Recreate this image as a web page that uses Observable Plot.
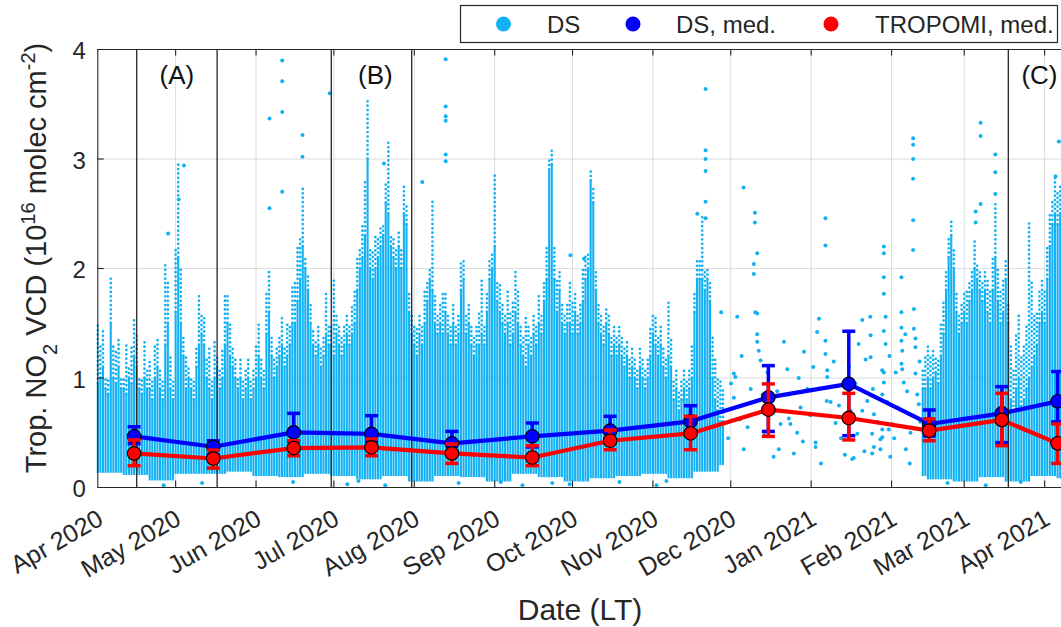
<!DOCTYPE html>
<html>
<head>
<meta charset="utf-8">
<script src="https://cdn.jsdelivr.net/npm/d3@7"></script>
<script src="https://cdn.jsdelivr.net/npm/@observablehq/plot@0.6"></script>
<style>
  html, body { margin: 0; padding: 0; background: #fff; overflow: hidden; }
  #chart { position: relative; width: 1061px; height: 627px; overflow: hidden; }
  #chart svg { overflow: hidden; }
</style>
</head>
<body>
<div id="chart"></div>
<script>
// ---------------- DATA ----------------
const startDay = "2020-04-01";          // day 0 of the day offsets below
const endDayOffset = 371.5;             // right edge of the visible axis (days)

const monthTicks = ["2020-04-01","2020-05-01","2020-06-01","2020-07-01","2020-08-01","2020-09-01",
  "2020-10-01","2020-11-01","2020-12-01","2021-01-01","2021-02-01","2021-03-01","2021-04-01"];
const monthLabels = ["Apr 2020","May 2020","Jun 2020","Jul 2020","Aug 2020","Sep 2020",
  "Oct 2020","Nov 2020","Dec 2020","Jan 2021","Feb 2021","Mar 2021","Apr 2021"];
const yTicks = [0, 1, 2, 3, 4];

// monthly medians and error-bar limits
const medDates = ["2020-04-15","2020-05-15T12:00","2020-06-15T12:00","2020-07-15T12:00","2020-08-15T12:00",
  "2020-09-15T12:00","2020-10-15T12:00","2020-11-15T12:00","2020-12-15T12:00","2021-01-15T12:00",
  "2021-02-15T12:00","2021-03-15T12:00","2021-04-06"];
const dsMed = [0.467,0.372,0.503,0.489,0.403,0.467,0.519,0.604,0.823,0.946,0.580,0.677,0.787];
const dsHi  = [0.555,0.427,0.677,0.656,0.512,0.589,0.650,0.747,1.113,1.427,0.708,0.921,1.059];
const dsLo  = [0.400,0.300,0.420,0.420,0.330,0.370,0.440,0.500,0.512,0.473,0.470,0.410,0.600];
const trMed = [0.311,0.265,0.360,0.366,0.311,0.274,0.427,0.494,0.711,0.635,0.519,0.617,0.403];
const trHi  = [0.434,0.342,0.427,0.443,0.397,0.382,0.525,0.650,0.946,0.860,0.626,0.860,0.580];
const trLo  = [0.199,0.177,0.290,0.290,0.220,0.199,0.345,0.345,0.467,0.434,0.427,0.382,0.220];

// period markers
const periodLines = ["2020-04-16","2020-05-17","2020-06-30","2020-07-31","2021-03-18"];
const periodLabels = ["(A)","(B)","(C)"];
const periodLabelDates = ["2020-05-01T12:00","2020-07-17","2021-03-30"];
const periodLabelY = [3.76, 3.76, 3.76];

// DS scatter, read as daily columns: dense core top and sparse-dot tail top
const coreStartA = 0;
const dsCoreA = [
 0.95,1.0,1.1,0.9,0.85,1.5,1.0,0.95,1.1,0.9,
 0.9,0.85,1.0,0.95,1.2,1.1,0.9,0.85,1.0,0.9,
 0.9,0.8,1.0,1.1,0.9,0.8,1.3,1.5,0.9,0.8,
 1.6,2.1,1.5,1.2,0.9,1.0,0.9,0.8,1.1,1.3,
 1.4,1.3,1.0,0.9,0.8,1.0,1.1,0.9,1.0,1.3,
 1.5,1.2,1.1,1.0,0.9,1.0,0.8,0.9,1.0,0.8,
 0.9,1.0,1.2,1.0,0.9,1.4,1.6,1.2,1.0,1.1,
 1.2,1.3,1.1,1.2,1.3,1.5,1.5,1.7,1.9,2.2,
 2.0,1.8,1.5,1.3,1.2,1.3,1.1,1.2,1.4,1.3,
 1.3,1.2,1.4,1.3,1.2,1.3,1.4,1.3,1.4,1.5,
 1.8,2.0,2.1,2.3,3.0,2.0,1.9,2.0,2.1,2.2,
 2.3,2.6,2.5,2.2,2.1,2.0,2.2,2.0,2.5,2.4,
 1.6,1.4,1.3,1.2,1.4,1.3,1.5,1.7,1.9,1.8,
 1.5,1.4,1.5,1.4,1.6,1.4,1.3,1.5,1.3,1.4,
 1.8,1.9,1.4,1.5,1.3,1.2,1.3,1.3,1.4,1.3,
 1.6,1.9,2.0,2.2,1.7,1.6,1.5,1.4,1.5,1.3,
 1.4,1.6,1.5,1.3,1.2,1.1,1.3,1.2,1.4,1.3,
 1.5,1.4,1.7,1.9,2.9,2.95,1.9,1.6,1.8,1.5,
 1.4,1.5,1.5,1.4,1.6,1.4,1.5,1.7,1.9,2.0,
 2.8,2.6,1.8,1.5,1.4,1.3,1.5,1.4,1.2,1.3,
 1.2,1.3,1.2,1.1,1.2,1.0,1.1,1.0,0.9,1.1,
 1.0,0.9,1.0,1.2,1.4,1.3,1.2,1.3,1.1,1.0,
 1.2,1.1,0.8,0.9,0.7,0.8,0.9,0.8,0.9,1.0,
 1.6,1.9,1.9,1.9,1.8,1.9,1.7,1.0,0.8,0.7,
 0.6,0.6];
const dsTailA = [
 1.5,1.3,1.45,1.0,1.0,1.92,1.3,1.25,1.35,1.0,
 1.0,1.3,1.1,1.3,1.55,1.4,1.0,1.0,1.35,1.1,
 1.15,1.0,1.3,1.35,1.1,1.0,2.05,1.9,1.2,1.0,
 2.2,2.95,2.0,1.4,1.2,1.1,1.0,1.0,1.3,1.75,
 1.6,1.55,1.2,1.3,1.0,1.35,1.2,1.1,1.25,1.75,
 1.75,1.5,1.3,1.2,1.0,1.2,1.0,1.1,1.2,1.0,
 1.1,1.3,1.5,1.2,1.1,1.8,2.0,1.4,1.2,1.3,
 1.4,1.55,1.3,1.5,1.5,1.85,1.9,2.2,2.3,2.75,
 2.1,1.95,1.7,1.45,1.35,1.5,1.3,1.4,1.8,1.5,
 1.5,1.9,1.6,1.5,1.4,1.5,1.6,1.5,1.65,1.8,
 2.1,2.2,2.4,2.8,3.55,2.2,2.15,2.3,2.3,2.4,
 2.4,2.8,3.15,2.3,2.3,2.2,2.35,2.2,2.77,2.6,
 1.8,1.6,1.5,1.45,1.6,1.5,1.8,1.9,2.0,2.61,
 1.75,1.6,1.7,1.8,1.8,1.6,1.5,1.7,1.5,1.6,
 2.05,2.1,1.6,1.7,1.5,1.4,1.5,1.6,1.9,1.5,
 1.8,2.1,2.15,2.85,1.9,1.85,1.7,1.6,1.8,1.6,
 1.7,2.0,1.8,1.5,1.4,1.55,1.5,1.4,1.6,1.5,
 1.75,1.6,1.9,2.2,3.0,3.11,2.2,1.9,2.0,1.7,
 1.6,1.7,1.9,1.7,1.8,1.6,1.7,2.0,2.13,2.15,
 2.91,2.75,2.0,1.7,1.6,1.5,1.65,1.6,1.4,1.5,
 1.4,1.5,1.4,1.3,1.35,1.2,1.3,1.2,1.1,1.3,
 1.2,1.1,1.2,1.45,1.6,1.55,1.4,1.5,1.3,1.2,
 1.7,1.35,1.0,1.1,0.9,1.0,1.1,1.0,1.1,1.3,
 1.8,2.1,2.1,2.5,2.0,2.0,1.9,1.4,1.2,1.0,
 1.0,0.9];
const coreStartB = 318;
const dsCoreB = [
 0.9,0.9,1.0,0.9,1.0,1.05,0.95,1.2,1.4,1.8,
 2.1,2.3,2.0,1.6,1.4,1.5,1.6,1.5,1.7,1.8,
 2.0,1.9,1.8,1.7,1.8,1.6,1.5,1.8,2.1,1.7,
 1.5,1.6,1.9,1.5,0.8,0.7,0.9,1.0,0.7,0.8,
 0.9,1.0,1.1,1.2,1.3,1.5,1.6,1.5,1.9,2.2,
 2.4,2.5,2.4,2.5];
const dsTailB = [
 1.1,1.2,1.3,1.2,1.25,1.2,1.19,1.5,1.7,2.0,
 2.3,2.46,2.2,1.8,1.6,1.7,1.8,1.8,1.9,2.0,
 2.27,2.05,2.0,1.9,2.0,1.9,1.8,2.1,2.6,2.0,
 1.8,1.9,2.1,1.7,1.3,1.1,1.4,1.6,1.2,1.3,
 1.5,2.42,1.9,1.6,1.6,1.8,1.9,1.8,2.2,2.5,
 2.62,2.84,2.7,2.75];
// lower edge of the dense cloud, per 10-day block
const dsLowBlocks = [0.13,0.11,0.06,0.12,0.12,0.14,0.1,0.09,0.12,0.1,
  0.07,0.1,0.05,0.1,0.09,0.05,0.12,0.09,0.05,0.08,
  0.1,0.12,0.08,0.14,0.2,0.2,0.2,0.2,0.2,0.2,
  0.2,0.1,0.07,0.05,0.09,0.05,0.1,0.08];
// isolated high DS points [day, value]
const dsOutliers = [[27.1,2.32],[33.2,2.94],[31.2,2.63],[66.2,3.37],[66.2,2.55],[71.1,3.90],[71.1,3.71],
  [71.1,3.43],[71.1,2.70],[78.9,3.22],[78.9,3.02],[89.4,3.60],[110.3,2.96],[125.1,2.79],[134.1,3.91],
  [134.1,3.48],[134.1,3.39],[134.1,3.35],[134.1,3.04],[134.1,2.98],[182.2,2.12],[187.4,2.09],[231.1,2.5],
  [234.3,3.64],[234.3,3.08],[234.3,3.0],[234.3,2.89],[234.3,2.61],[234.3,2.46],[338.4,2.52],[338.4,2.42],
  [340.3,3.33],[340.3,3.21],[340.3,2.59],[346,3.04],[346,2.88],[346,2.68],[369.2,2.84],[370.5,3.16],
  [25.4,0.02],[40.2,0.04],[75.3,0.05],[96.2,0.03],[100.5,0.06],[110.8,0.02],[139.1,0.04],[155.3,0.05],
  [163.7,0.02],[175.2,0.04],[181.9,0.03],[201.1,0.05],[215.4,0.02],[219.2,0.06],[327.6,0.04],[342.3,0.02],
  [355.8,0.05]];
// sparse winter DS points [day, value]
const dsWinter = [[240.3,1.60],[245.2,1.04],[245.8,1.01],[246.5,1.56],[245.2,0.82],[249,0.35],[252.9,2.04],
  [252.9,1.95],[253.5,1.60],[254.2,1.59],[254.2,1.40],[254.2,1.33],[254.8,1.25],[255.5,1.16],[261.9,0.88],
  [262.5,0.35],[263.2,0.58],[264.5,1.33],[265.8,1.08],[266.4,0.85],[266.4,0.63],[267,0.58],[268.3,0.31],
  [269.6,0.50],[270.9,0.73],[272.2,1.24],[274.7,0.66],[276.7,0.41],[276.7,0.37],[278,1.54],[277.3,1.42],
  [280.5,1.34],[280.5,1.22],[281.2,1.01],[282.5,0.78],[284.4,0.59],[285.7,0.75],[288.9,0.61],[290.2,0.70],
  [290.8,0.26],[292.8,0.49],[294.7,1.53],[296,1.17],[296.6,0.79],[297.9,1.19],[297.9,1.39],[299.2,0.67],
  [299.2,0.37],[302.4,0.46],[302.4,0.53],[303,2.14],[303,1.92],[303,1.77],[303.7,1.56],[303,1.43],
  [303.7,1.31],[303,1.05],[303,0.96],[304.3,0.78],[304.9,0.53],[306.2,0.58],[308.2,0.73],[309.8,1.92],
  [309.8,1.60],[309.8,1.46],[309.8,1.34],[310.1,1.25],[309.8,1.13],[310.1,1.08],[310.7,0.96],[312,0.88],
  [314.6,1.63],[314.6,1.45],[315.2,1.36],[315.2,1.28],[315.2,1.04],[315.9,0.85],[316.5,0.76],[313.3,0.50],
  [281.2,1.07],[281,0.79],[297.8,1.56],[293.3,1.31],[294.7,0.70],[298.5,0.49],[298.5,0.31],[291.4,0.27],
  [302.4,1.07],[302.4,0.85],[301.7,0.44],[301.7,0.35],[248.9,2.74],[253.3,2.51],[253.3,2.42],[254.2,2.14],
  [280.5,2.46],[280.5,2.21],[303,2.20],[314.3,3.19],[314.3,3.13],[314.3,3.0],[314.3,2.82],[314.3,2.44],
  [314.3,2.17],[243,0.45],[247.5,0.62],[250.5,0.55],[257,0.48],[259,0.70],[260.5,0.28],[271.8,0.42],
  [278.8,0.22],[286.5,0.45],[288,0.30],[295.5,0.33],[300.5,0.60],[305.5,0.28],[307,0.45],[311.5,0.35],
  [313,0.22],[317,0.60],[244.1,0.95],[248.2,1.2],[251.7,0.9],[256.3,0.85],[258.2,1.05],[270.2,1.0],
  [273.5,0.9],[275.8,1.1],[283.7,1.15],[287.2,0.95],[289.6,1.1],[292.1,0.95],[298.8,0.9],[305.2,1.2],
  [307.6,1.05],[311.3,1.4],[316.8,1.15]];

// ---------------- BUILD ----------------
const DS_COLOR = "#12b1f3";
const INK = "#262626";
const t0 = new Date(startDay + "T00:00:00Z").getTime();
const dayToDate = d => new Date(t0 + d * 864e5);
const parse = s => new Date(s.length > 10 ? s + ":00Z" : s + "T00:00:00Z");

const months = monthTicks.map(parse);
const x0 = dayToDate(0), x1 = dayToDate(endDayOffset);

function columns(start, core, tail) {
  return core.map((c, i) => {
    const d = start + i;
    return {date: dayToDate(d), low: dsLowBlocks[Math.floor(d / 10)], core: c, tail: tail[i]};
  });
}
const cols = columns(coreStartA, dsCoreA, dsTailA).concat(columns(coreStartB, dsCoreB, dsTailB));
const pts = dsOutliers.concat(dsWinter).map(([d, v]) => ({date: dayToDate(d), v}));

const med = medDates.map((s, i) => ({
  date: parse(s), ds: dsMed[i], dsHi: dsHi[i], dsLo: dsLo[i],
  tr: trMed[i], trHi: trHi[i], trLo: trLo[i]
}));

const capSymbol = {draw(ctx, size) { const r = Math.sqrt(size / Math.PI); ctx.moveTo(-r, 0); ctx.lineTo(r, 0); }};

function series(keyMed, keyHi, keyLo, color) {
  return [
    Plot.ruleX(med, {x: "date", y1: keyLo, y2: keyHi, stroke: color, strokeWidth: 3.5}),
    Plot.dot(med, {x: "date", y: keyHi, symbol: capSymbol, r: 6.5, stroke: color, strokeWidth: 3.5, fill: "none"}),
    Plot.dot(med, {x: "date", y: keyLo, symbol: capSymbol, r: 6.5, stroke: color, strokeWidth: 3.5, fill: "none"}),
    Plot.line(med, {x: "date", y: keyMed, stroke: color, strokeWidth: 4.2}),
    Plot.dot(med, {x: "date", y: keyMed, r: 6.8, fill: color, stroke: "#000", strokeWidth: 1.1})
  ];
}

const tickLen = 0.06;      // inward tick length in y units
const yTickDays = 2.5;     // inward y tick length in days

const plot = Plot.plot({
  width: 1061,
  height: 627,
  marginLeft: 97.3,
  marginRight: 0,
  marginTop: 49,
  marginBottom: 140,
  style: {fontFamily: "'Liberation Sans', Arial, Helvetica, sans-serif", background: "#fff", color: INK},
  x: {type: "utc", domain: [x0, x1], axis: null},
  y: {domain: [0, 4], axis: null},
  marks: [
    // grid
    Plot.ruleX(months.slice(1), {stroke: "#dcdcdc", strokeWidth: 1}),
    Plot.ruleY(yTicks.slice(1, 4), {stroke: "#dcdcdc", strokeWidth: 1}),
    // DS scatter: dense core columns
    Plot.ruleX(cols, {x: "date", y1: "low", y2: "core", stroke: DS_COLOR, strokeWidth: 2.1}),
    // DS scatter: sparse dotted tails above the core
    Plot.ruleX(cols, {x: "date", y1: "core", y2: "tail", stroke: DS_COLOR, strokeWidth: 2.7,
      strokeDasharray: "0,4.4", strokeLinecap: "round"}),
    // individual DS points
    Plot.dot(pts, {x: "date", y: "v", r: 2, fill: DS_COLOR}),
    // period separators
    Plot.ruleX(periodLines.map(parse), {stroke: INK, strokeWidth: 1.3}),
    Plot.text(periodLabels, {x: (d, i) => parse(periodLabelDates[i]), y: (d, i) => periodLabelY[i],
      text: d => d, fontSize: 26, fill: "#111"}),
    // medians
    ...series("ds", "dsHi", "dsLo", "#0000ff"),
    ...series("tr", "trHi", "trLo", "#ff0000"),
    // axes box and inward ticks
    Plot.ruleY([0, 4], {stroke: INK, strokeWidth: 1.1}),
    Plot.ruleX([x0], {stroke: INK, strokeWidth: 1.1}),
    Plot.ruleX(months.slice(1), {y1: 0, y2: tickLen, stroke: INK, strokeWidth: 1.1}),
    Plot.ruleX(months.slice(1), {y1: 4 - tickLen, y2: 4, stroke: INK, strokeWidth: 1.1}),
    Plot.ruleY(yTicks.slice(1, 4), {x1: () => x0, x2: () => dayToDate(yTickDays), stroke: INK, strokeWidth: 1.1}),
    // tick labels
    Plot.text(yTicks, {frameAnchor: "left", y: d => d, text: d => String(d), textAnchor: "end",
      dx: -12, dy: 2, fontSize: 24, fill: INK}),
    Plot.text(months, {x: d => d, frameAnchor: "bottom", text: (d, i) => monthLabels[i], rotate: -30,
      textAnchor: "end", lineAnchor: "middle", dx: 3, dy: 29, fontSize: 25, fill: INK})
  ]
});

document.getElementById("chart").appendChild(plot);

// axis titles and legend
const svg = d3.select(plot);
const yl = svg.append("text")
  .attr("transform", "translate(46,258) rotate(-90)")
  .attr("text-anchor", "middle")
  .attr("fill", INK)
  .style("font-size", "29px");
yl.append("tspan").text("Trop. NO");
yl.append("tspan").attr("baseline-shift", "sub").style("font-size", "20px").text("2");
yl.append("tspan").text(" VCD (10");
yl.append("tspan").attr("baseline-shift", "super").style("font-size", "20px").text("16");
yl.append("tspan").text(" molec cm");
yl.append("tspan").attr("baseline-shift", "super").style("font-size", "20px").text("-2");
yl.append("tspan").text(")");

svg.append("text").attr("x", 580).attr("y", 620).attr("text-anchor", "middle")
  .attr("fill", INK).style("font-size", "30px").text("Date (LT)");

const lg = svg.append("g").attr("text-anchor", "start");
lg.append("rect").attr("x", 460.5).attr("y", 5.5).attr("width", 597).attr("height", 37)
  .attr("fill", "#fff").attr("stroke", INK).attr("stroke-width", 1.2);
const legendItems = [
  {label: "DS", color: DS_COLOR, mx: 503.5, tx: 547},
  {label: "DS, med.", color: "#0000ff", mx: 633, tx: 676},
  {label: "TROPOMI, med.", color: "#ff0000", mx: 831, tx: 875}
];
legendItems.forEach(it => {
  lg.append("circle").attr("cx", it.mx).attr("cy", 24).attr("r", 7.5).attr("fill", it.color);
  lg.append("text").attr("x", it.tx).attr("y", 33).attr("text-anchor", "start").attr("fill", INK)
    .style("font-size", "24px").text(it.label);
});
</script>
</body>
</html>
